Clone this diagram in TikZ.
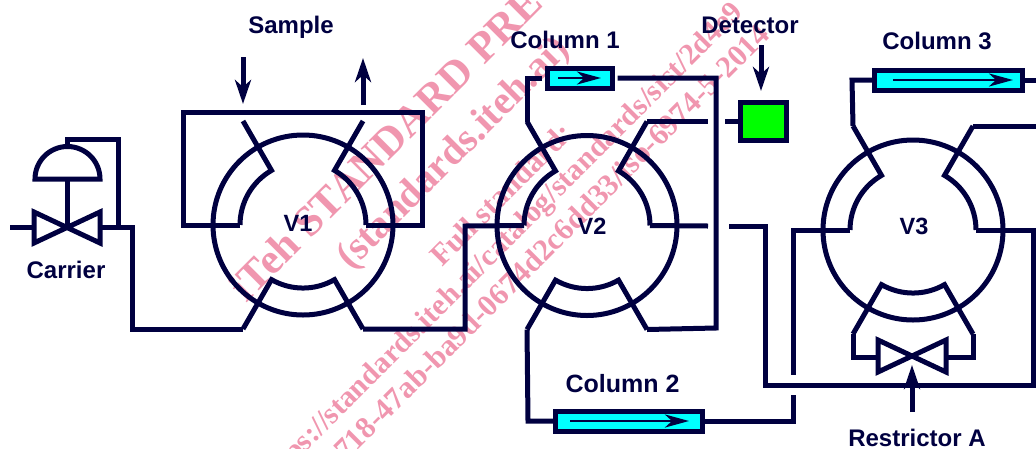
\documentclass[tikz,border=0pt]{standalone}
\usepackage{fontspec}
\setmainfont{Liberation Sans}
\newfontfamily\wmfont{Liberation Serif}
\usetikzlibrary{arrows.meta}
\definecolor{navy}{RGB}{0,0,64}
\definecolor{wmpink}{RGB}{240,150,175}
\definecolor{colfill}{RGB}{0,255,255}
\definecolor{detfill}{RGB}{0,255,0}
\tikzset{
  pipe/.style={draw=navy,line width=5pt},
  lbl/.style={text=navy,font=\bfseries\fontsize{24}{28}\selectfont,inner sep=0pt},
  vlbl/.style={text=navy,font=\bfseries\fontsize{23.5}{28}\selectfont,inner sep=0pt},
  colbox/.style={draw=navy,line width=5pt,fill=colfill,minimum height=20pt,inner sep=0pt,outer sep=0pt},
  detbox/.style={draw=navy,line width=5pt,fill=detfill,minimum width=46pt,minimum height=38pt,inner sep=0pt,outer sep=0pt},
  bigarrow/.style={draw=navy,line width=5pt,-{Stealth[length=24pt,width=16pt,inset=7pt]}},
  colarrow/.style={draw=navy,line width=2.8pt,-{Stealth[length=24pt,width=13pt,inset=7pt]}},
  wm/.style={text=wmpink,inner sep=0pt,rotate=45,anchor=base west},
}
% valve: name, cx, cy
\newcommand{\valvebody}[3]{%
  \coordinate (#1) at (#2,#3);
  \coordinate (#1-ul) at (#2-60,#3-104);
  \coordinate (#1-ur) at (#2+60,#3-104);
  \coordinate (#1-l) at (#2-120,#3);
  \coordinate (#1-r) at (#2+120,#3);
  \coordinate (#1-ll) at (#2-60,#3+104);
  \coordinate (#1-lr) at (#2+60,#3+104);
  \coordinate (#1-iul) at (#2-31.5,#3-54.6);
  \coordinate (#1-iur) at (#2+31.5,#3-54.6);
  \coordinate (#1-il) at (#2-63,#3);
  \coordinate (#1-ir) at (#2+63,#3);
  \coordinate (#1-ill) at (#2-31.5,#3+54.6);
  \coordinate (#1-ilr) at (#2+31.5,#3+54.6);
  \draw[pipe] (#2+90,#3) arc[start angle=0,end angle=360,radius=90pt];
  \draw[pipe] (#1-ul) -- (#1-iul) arc[start angle=120,end angle=180,radius=63pt];
  \draw[pipe] (#1-ur) -- (#1-iur) arc[start angle=60,end angle=0,radius=63pt];
  \draw[pipe] (#1-ll) -- (#1-ill) arc[start angle=240,end angle=300,radius=63pt] -- (#1-lr);
}
\begin{document}
\begin{tikzpicture}[x=1pt,y=-1pt]
\useasboundingbox (0,0) rectangle (1036,448);
\clip (0,0) rectangle (1036,448);
% watermark
\node[wm,font=\wmfont\bfseries\fontsize{43}{50}\selectfont] (wm1) at (246,304) {iTeh STANDARD PREVIEW};
\node[wm,font=\wmfont\bfseries\fontsize{40}{48}\selectfont] (wm2) at (351,271) {(standards.iteh.ai)};
\node[wm,font=\wmfont\bfseries\fontsize{30.5}{36}\selectfont] (wm3) at (442,268) {Full standard:};
\node[wm,font=\wmfont\bfseries\fontsize{30}{36}\selectfont] (wm4) at (268,490) {https://standards.iteh.ai/catalog/standards/sist/2d4e9};
\node[wm,font=\wmfont\bfseries\fontsize{30.5}{36}\selectfont] (wm5) at (346,462) {718-47ab-ba9d-0674d2c6dd33/iso-6974-5-2014};
% valves
\valvebody{va}{303}{225}
\valvebody{vb}{587}{225.5}
\valvebody{vc}{913}{230}
\node[vlbl] (v1) at (298,223) {V1};
\node[vlbl] (v2) at (592,226) {V2};
\node[vlbl] (v3) at (914,226) {V3};
% carrier valve
\coordinate (cv) at (67,227);
\draw[pipe] (34,212) -- (100,243) -- (100,212) -- (34,243) -- cycle;
\draw[pipe] (35,179) arc[start angle=180,end angle=0,radius=32.5pt] -- cycle;
\draw[pipe] (67,179) -- (cv);
\coordinate (cin) at (10,227);
\coordinate (cleft) at (34,227);
\coordinate (cright) at (100,227);
\draw[pipe] (cin) -- (cleft);
\coordinate (cj) at (132,227);
\draw[pipe] (cright) -- (cj) -- (132,329) -- (va-ll);
\draw[pipe] (118,227) -- (118,139) -- (67,139) -- (67,148);
\node[lbl] (carrier) at (66,270) {Carrier};
% sample loop
\draw[pipe] (va-il) -- (va-l) -- (183,112) -- (422,112) -- (422,225) -- (va-ir);
\coordinate (s1a) at (243,57); \coordinate (s1b) at (243,104);
\coordinate (s2a) at (363,105); \coordinate (s2b) at (363,58);
\draw[bigarrow] (s1a) -- (s1b);
\draw[bigarrow] (s2a) -- (s2b);
\node[lbl] (sample) at (291,27) {Sample};
% V1 to V2
\draw[pipe] (va-lr) -- (465,329) -- (465,226) -- (vb-il);
% column 1
\node[colbox,minimum width=65pt] (c1) at (580,78) {};
\draw[pipe,shorten >=5.5pt] (vb-ul) -- (527,78) -- (c1.west);
\draw[pipe,shorten <=5pt] (c1.east) -- (716,78) -- (716,328) -- (vb-lr);
\coordinate (c1a) at (558,78); \coordinate (c1b) at (601,78);
\draw[colarrow] (c1a) -- (c1b);
\node[lbl] (col1) at (565,40) {Column 1};
% detector
\node[detbox] (det) at (763.5,121.5) {};
\coordinate (dg) at (725,121.5);
\coordinate (vbt) at (708,121.5);
\draw[pipe] (vb-ur) -- (vbt);
\draw[pipe] (dg) -- (det.west);
\coordinate (d1) at (761,45); \coordinate (d2) at (761,91);
\draw[bigarrow] (d1) -- (d2);
\node[lbl] (detl) at (750,25) {Detector};
% V2 right
\coordinate (vbr) at (708,226);
\draw[pipe] (vb-ir) -- (vbr);
\coordinate (br) at (729,226);
\draw[pipe] (br) -- (765,226) -- (765,385) -- (1033,385) -- (1033,230) -- (vc-ir);
% column 2
\node[colbox,minimum width=147pt] (c2) at (629,421) {};
\draw[pipe] (vb-ll) -- (528,421) -- (c2.west);
\coordinate (vcg) at (793,395);
\draw[pipe] (c2.east) -- (793,421) -- (vcg);
\coordinate (c2a) at (570,421); \coordinate (c2b) at (689,421);
\draw[colarrow] (c2a) -- (c2b);
\node[lbl,font=\bfseries\fontsize{25}{28}\selectfont] (col2) at (622.5,384) {Column 2};
% V3 left
\coordinate (vcg2) at (793,375);
\draw[pipe] (vc-il) -- (793,230) -- (vcg2);
% column 3
\node[colbox,minimum width=148pt] (c3) at (948.5,80) {};
\draw[pipe] (vc-ul) -- (852,80) -- (c3.west);
\coordinate (c3e) at (1036,80);
\draw[pipe] (c3.east) -- (c3e);
\coordinate (c3a) at (893,80); \coordinate (c3b) at (1013,80);
\draw[colarrow] (c3a) -- (c3b);
\node[lbl] (col3) at (937,41) {Column 3};
\coordinate (vce) at (1036,126);
\draw[pipe] (vc-ur) -- (vce);
% restrictor
\draw[pipe] (878,340) -- (946,372) -- (946,340) -- (878,372) -- cycle;
\coordinate (rl) at (878,357); \coordinate (rr) at (946,357);
\draw[pipe] (vc-ll) -- (853,357) -- (rl);
\draw[pipe] (vc-lr) -- (973,357) -- (rr);
\coordinate (ra) at (912,412); \coordinate (rb) at (912,365);
\draw[bigarrow] (ra) -- (rb);
\node[lbl] (restr) at (917,438) {Restrictor A};
\end{tikzpicture}
\end{document}
